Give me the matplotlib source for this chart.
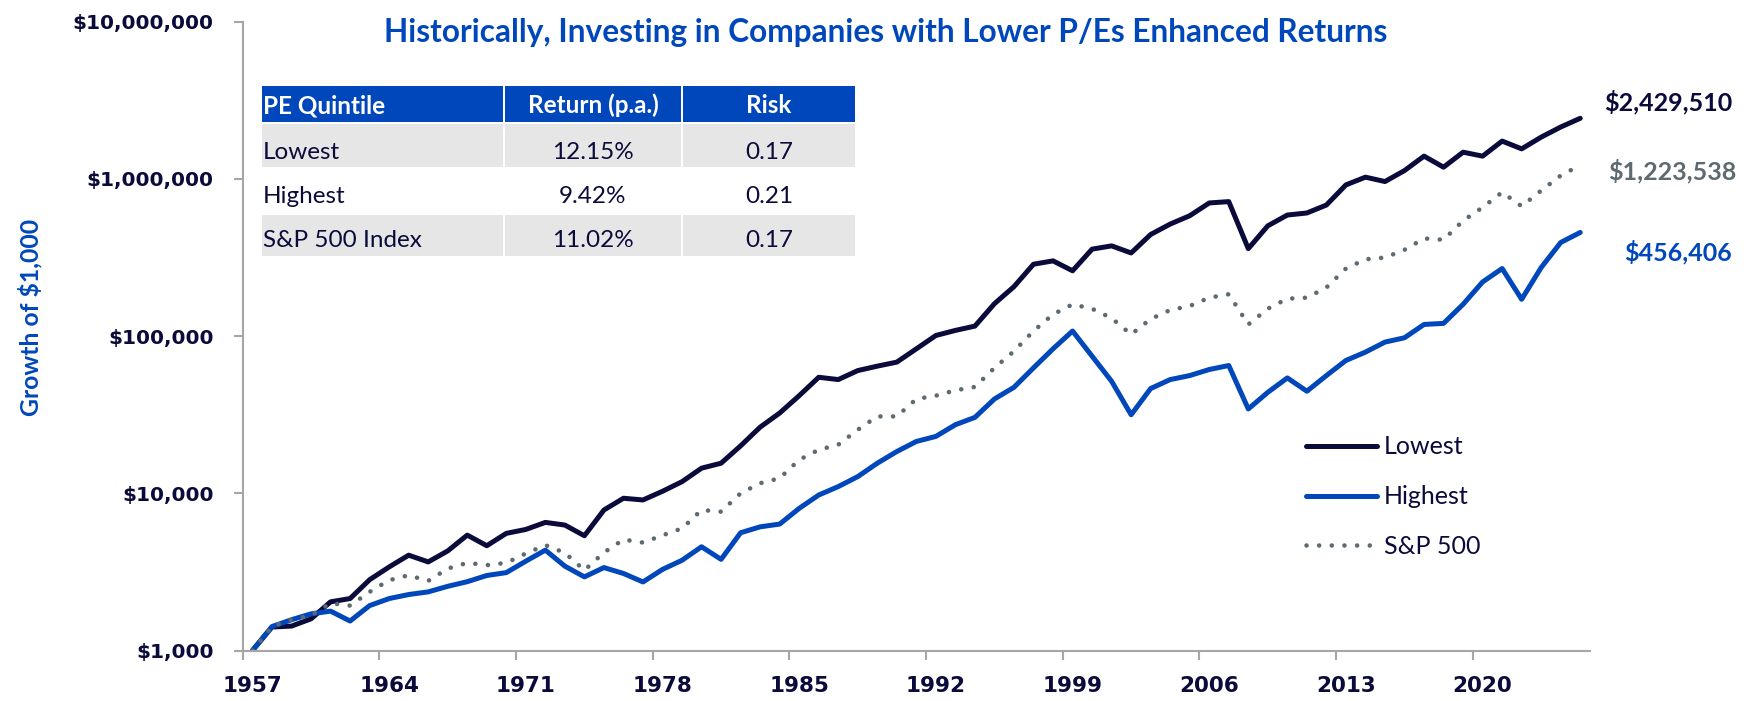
"""Growth of $1,000 by P/E quintile, log scale, with summary table."""

import matplotlib
matplotlib.use('Agg')
import matplotlib.pyplot as plt
from matplotlib.patches import Rectangle
from matplotlib.ticker import NullLocator

NAVY = '#0b0b3b'
BLUE = '#0047bb'
GREY = '#5e6a71'
AXIS_GREY = '#a6a6a6'
CELL_GREY = '#e6e6e6'

years = list(range(1957, 2026))

lowest = [
    1000, 1410, 1430, 1590, 2040, 2140, 2820, 3400, 4040, 3660,
    4300, 5420, 4640, 5560, 5890, 6530, 6280, 5370, 7830, 9300,
    9070, 10300, 11860, 14450, 15540, 20040, 26350, 32400, 41800, 54700,
    52900, 60350, 64400, 68300, 83000, 100900, 108700, 115800, 160800, 206400,
    286600, 301000, 260300, 357400, 375000, 338000, 443000, 516000, 583000, 703000,
    717000, 360000, 503000, 589000, 607000, 682000, 916000, 1026000, 962000, 1130000,
    1396000, 1187000, 1479000, 1396000, 1740000, 1553000, 1844000, 2138000, 2429510,
]
highest = [
    1000, 1420, 1570, 1710, 1780, 1540, 1930, 2140, 2270, 2360,
    2560, 2740, 3000, 3130, 3700, 4350, 3440, 2940, 3370, 3090,
    2730, 3280, 3750, 4570, 3800, 5610, 6120, 6370, 8020, 9750,
    11030, 12770, 15540, 18440, 21370, 23010, 27310, 30410, 39810, 47240,
    62780, 83000, 107700, 74500, 51600, 31600, 46400, 52900, 56100, 61300,
    65000, 34400, 43900, 54200, 44600, 56100, 70000, 79100, 91600, 97600,
    118600, 120500, 159300, 221000, 269000, 171500, 273000, 394000, 456406,
]
sp500 = [
    1000, 1420, 1570, 1670, 2000, 1930, 2360, 2800, 3010, 2770,
    3320, 3610, 3490, 3610, 4140, 4680, 4180, 3240, 4200, 5080,
    4860, 5400, 5980, 7830, 7640, 10000, 11590, 12470, 16330, 18910,
    20370, 25370, 30840, 30840, 39810, 41800, 45190, 47500, 62780, 80200,
    107700, 137500, 159200, 149300, 130000, 102600, 128400, 146500, 155300, 175600,
    184600, 118600, 149300, 173000, 175600, 203700, 269000, 308000, 316000, 354000,
    418000, 410000, 542000, 659000, 822000, 670000, 843000, 1050000, 1223538,
]

series_names = ['Lowest', 'Highest', 'S&P 500']
end_labels = ['$2,429,510', '$456,406', '$1,223,538']

label_years = list(range(1957, 2021, 7))
y_ticks = [1e3, 1e4, 1e5, 1e6, 1e7]

table_header = ['PE Quintile', 'Return (p.a.)', 'Risk']
table_rows = [
    ['Lowest', '12.15%', '0.17'],
    ['Highest', '9.42%', '0.21'],
    ['S&P 500 Index', '11.02%', '0.17'],
]

title = 'Historically, Investing in Companies with Lower P/Es Enhanced Returns'
y_label = 'Growth of $1,000'

W, H = 1764, 701
plt.rcParams['font.family'] = ['Lato', 'DejaVu Sans']


def fx(px):
    return px / W


def fy(py):
    return 1 - py / H


fig = plt.figure(figsize=(W / 100, H / 100), dpi=100)
ax = fig.add_axes([fx(242.7), fy(650.5), (1590 - 242.7) / W, (650.5 - 21.7) / H])

ax.plot(years, lowest, color=NAVY, lw=3.6, solid_joinstyle='round',
        solid_capstyle='round', label=series_names[0])
ax.plot(years, highest, color=BLUE, lw=3.6, solid_joinstyle='round',
        solid_capstyle='round', label=series_names[1])
ax.plot(years, sp500, color=GREY, lw=3.3, linestyle=(0, (0.01, 2.75)),
        dash_capstyle='round', label=series_names[2])

ax.set_yscale('log')
ax.set_ylim(1e3, 1e7)
ax.set_xlim(1956.5, 2025.5)
ax.yaxis.set_minor_locator(NullLocator())
tick_font = dict(fontfamily='DejaVu Sans', fontweight='bold', color=NAVY)
ax.set_yticks(y_ticks, labels=['${:,.0f}'.format(v) for v in y_ticks],
              fontsize=14.5, **tick_font)
ax.set_xticks(label_years, labels=[str(y) for y in label_years],
              fontsize=15.5, **tick_font)
ax.set_xticks([y - 0.5 for y in label_years], minor=True)
ax.tick_params(axis='x', which='major', length=0, pad=18.5)
ax.tick_params(axis='x', which='minor', length=6.5, width=1.5, color=AXIS_GREY)
ax.tick_params(axis='y', length=6.5, width=1.5, color=AXIS_GREY, pad=14.5)
for side in ['top', 'right']:
    ax.spines[side].set_visible(False)
for side in ['left', 'bottom']:
    ax.spines[side].set_color(AXIS_GREY)
    ax.spines[side].set_linewidth(1.5)

# end-of-line value labels
finals = [lowest[-1], highest[-1], sp500[-1]]
colors = [NAVY, BLUE, GREY]
offsets = [(63.7, 11.9), (70.2, -14.2), (66.2, -4.2)]
for val, txt, col, off in zip(finals, end_labels, colors, offsets):
    ax.annotate(txt, xy=(years[-1], val), xytext=off, textcoords='offset points',
                ha='center', va='center', fontsize=18, fontweight='bold', color=col,
                annotation_clip=False)

ax.legend(loc='upper left', bbox_to_anchor=(fx(1306), fy(435.5)), bbox_transform=fig.transFigure,
          frameon=False, fontsize=18, handlelength=2.84, handletextpad=0.28,
          labelspacing=1.07, borderpad=0, borderaxespad=0, labelcolor=NAVY)

fig.text(fx(886), fy(41.7), title, ha='center', va='baseline', fontsize=22.8,
         fontweight='bold', color=BLUE)
fig.text(fx(30), fy(317), y_label, rotation=90, ha='center', va='center',
         fontsize=17.8, fontweight='bold', color=BLUE)

# summary table
col_x0 = [262, 505, 683]
col_x1 = [503, 681, 855]
row_y0 = [86, 124, 167, 215]
row_y1 = [122, 167, 213, 256]
baselines = [113.3, 159.3, 202.7, 246.7]
fills = [BLUE, CELL_GREY, None, CELL_GREY]

for r, cells in enumerate([table_header] + table_rows):
    for c, txt in enumerate(cells):
        if fills[r] is not None:
            fig.add_artist(Rectangle((fx(col_x0[c]), fy(row_y1[r])),
                                     (col_x1[c] - col_x0[c]) / W,
                                     (row_y1[r] - row_y0[r]) / H,
                                     transform=fig.transFigure, color=fills[r], lw=0))
        if c == 0:
            x, ha = col_x0[c] + 1, 'left'
        else:
            x, ha = (col_x0[c] + col_x1[c]) / 2, 'center'
        fig.text(fx(x), fy(baselines[r]), txt, ha=ha, va='baseline', fontsize=17.5,
                 fontweight='bold' if r == 0 else 'normal',
                 color='white' if r == 0 else NAVY)

fig.savefig('out.png', dpi=100)
